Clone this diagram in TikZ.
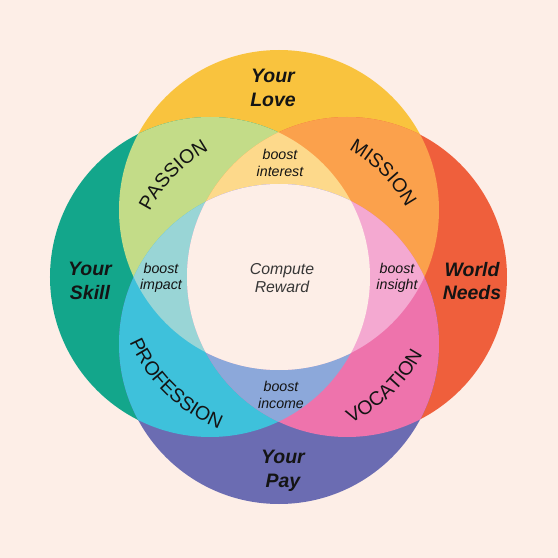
\documentclass[tikz,border=0pt]{standalone}
\usepackage{fontspec}
\setmainfont{Liberation Sans}
\usetikzlibrary{decorations.text}

\definecolor{bgpink}{HTML}{FDEEE7}
\definecolor{loveyellow}{HTML}{F9C33E}
\definecolor{skillteal}{HTML}{13A68B}
\definecolor{needsred}{HTML}{EF5F3C}
\definecolor{paypurple}{HTML}{6B6CB2}
\definecolor{passiongreen}{HTML}{C3DC88}
\definecolor{missionorange}{HTML}{FBA14C}
\definecolor{professioncyan}{HTML}{3EC1DB}
\definecolor{vocationpink}{HTML}{EE73AC}
\definecolor{interestyellow}{HTML}{FDD98B}
\definecolor{impactcyan}{HTML}{99D5D6}
\definecolor{insightpink}{HTML}{F4A9D1}
\definecolor{incomeblue}{HTML}{8CA8DA}
\definecolor{ink}{HTML}{141414}

\newcommand{\circLove}{(0,67) circle[radius=160]}
\newcommand{\circPay}{(0,-67) circle[radius=160]}
\newcommand{\circSkill}{(-69,0) circle[radius=160]}
\newcommand{\circNeeds}{(68,0) circle[radius=160]}
\newcommand{\capsfont}{\fontsize{27.7}{30}\selectfont}

\tikzset{
  bigtext/.style={font=\fontsize{27.7}{34}\selectfont\bfseries\itshape, align=center, text=ink},
  boosttext/.style={font=\fontsize{20.2}{23.5}\selectfont\itshape, align=center, text=ink},
  centertext/.style={font=\fontsize{22.5}{24.5}\selectfont\itshape, align=center, text=ink!85},
  arclabel/.style={decorate, decoration={text along path, text align=center, text color=ink, text={|\capsfont|#1}}}
}

\begin{document}
\begin{tikzpicture}[x=0.05cm, y=0.05cm]
    % Background
    \fill[bgpink] (-279,-281) rectangle (279,277);
    \useasboundingbox (-279,-281) rectangle (279,277);

    % The four circles
    \fill[loveyellow] \circLove;
    \fill[skillteal] \circSkill;
    \fill[needsred] \circNeeds;
    \fill[paypurple] \circPay;

    % Overlaps of two circles
    \begin{scope}
        \clip \circLove;
        \fill[passiongreen] \circSkill;
        \fill[missionorange] \circNeeds;
    \end{scope}
    \begin{scope}
        \clip \circPay;
        \fill[professioncyan] \circSkill;
        \fill[vocationpink] \circNeeds;
    \end{scope}

    % Overlaps of three circles
    \begin{scope}
        \clip \circSkill;
        \clip \circNeeds;
        \fill[interestyellow] \circLove;
        \fill[incomeblue] \circPay;
    \end{scope}
    \begin{scope}
        \clip \circLove;
        \clip \circPay;
        \fill[impactcyan] \circSkill;
        \fill[insightpink] \circNeeds;
    \end{scope}

    % Centre, all four circles
    \begin{scope}
        \clip \circLove;
        \clip \circPay;
        \clip \circSkill;
        \fill[bgpink] \circNeeds;
    \end{scope}

    % Circle names
    \node[bigtext] (love) at (-6,189) {Your\\Love};
    \node[bigtext] (skill) at (-189,-4) {Your\\Skill};
    \node[bigtext] (needs) at (193,-4) {World\\Needs};
    \node[bigtext] (pay) at (4,-194) {Your\\Pay};

    % Three-way overlaps
    \node[boosttext] (interest) at (1,114) {boost\\interest};
    \node[boosttext] (impact) at (-118,-1) {boost\\impact};
    \node[boosttext] (insight) at (118,-1) {boost\\insight};
    \node[boosttext] (income) at (2,-118) {boost\\income};
    \node[centertext] (reward) at (3,-1) {Compute\\Reward};

    % Two-way overlaps, set along arcs
    \path[arclabel=PASSION] (166:145) arc[start angle=166, end angle=106, radius=145];
    \path[arclabel=MISSION] (75:145) arc[start angle=75, end angle=15, radius=145];
    \path[arclabel=PROFESSION] (196:163) arc[start angle=196, end angle=256, radius=163];
    \path[arclabel=VOCATION] (-76:163) arc[start angle=-76, end angle=-16, radius=163];
\end{tikzpicture}
\end{document}
